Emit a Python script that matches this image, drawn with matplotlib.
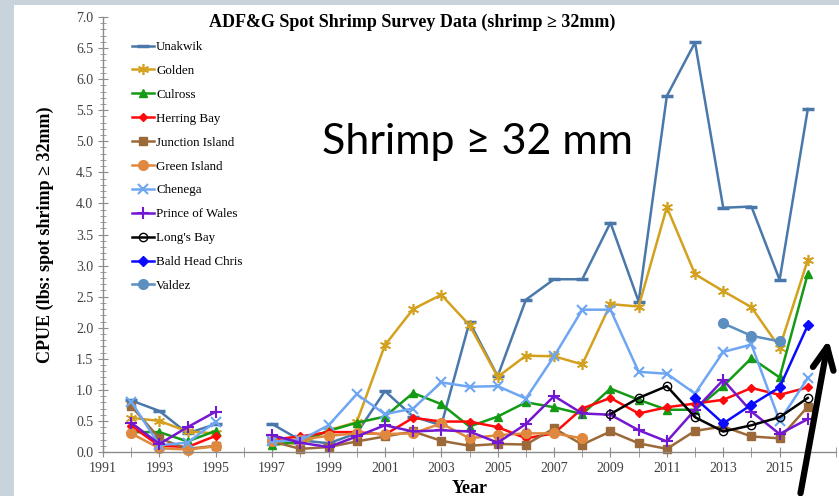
import numpy as np
import matplotlib
matplotlib.use('Agg')
from matplotlib import pyplot as plt
from matplotlib.patches import Rectangle
from matplotlib.ticker import MultipleLocator, FormatStrFormatter

nan = np.nan

# Survey years (1996 has no survey)
years = [1992, 1993, 1994, 1995, 1996, 1997, 1998, 1999, 2000, 2001, 2002, 2003, 2004,
         2005, 2006, 2007, 2008, 2009, 2010, 2011, 2012, 2013, 2014, 2015, 2016]

unakwik = [0.83, 0.66, 0.30, 0.45, nan, 0.45, 0.19, 0.14, 0.30, 0.98, 0.57, 0.43, 2.09,
           1.22, 2.45, 2.78, 2.78, 3.69, 2.42, 5.73, 6.59, 3.93, 3.95, 2.77, 5.52]
golden = [0.55, 0.50, 0.33, 0.30, nan, 0.18, 0.12, 0.35, 0.48, 1.72, 2.30, 2.53, 2.04,
          1.21, 1.55, 1.54, 1.41, 2.38, 2.34, 3.94, 2.86, 2.59, 2.33, 1.68, 3.09]
culross = [0.32, 0.32, 0.17, 0.34, nan, 0.11, 0.17, 0.34, 0.47, 0.57, 0.95, 0.77, 0.41,
           0.57, 0.80, 0.72, 0.61, 1.02, 0.84, 0.68, 0.68, 1.06, 1.51, 1.20, 2.87]
herring_bay = [0.42, 0.10, 0.08, 0.26, nan, 0.20, 0.25, 0.32, 0.32, 0.28, 0.55, 0.49, 0.49,
               0.40, 0.22, 0.30, 0.70, 0.87, 0.62, 0.72, 0.78, 0.84, 1.03, 0.92, 1.04]
junction_island = [0.74, 0.22, 0.05, 0.10, nan, 0.17, 0.05, 0.08, 0.17, 0.25, 0.33, 0.18, 0.10,
                   0.13, 0.12, 0.38, 0.12, 0.33, 0.14, 0.05, 0.34, 0.41, 0.25, 0.22, 0.73]
green_island = [0.30, 0.06, 0.04, 0.09, nan, 0.17, 0.20, 0.26, 0.30, 0.29, 0.30, 0.46, 0.22,
                0.27, 0.30, 0.30, 0.22, nan, nan, nan, nan, nan, nan, nan, nan]
chenega = [0.81, 0.11, 0.15, 0.49, nan, 0.17, 0.19, 0.43, 0.93, 0.61, 0.70, 1.12, 1.05,
           1.06, 0.86, 1.54, 2.29, 2.29, 1.29, 1.26, 0.94, 1.61, 1.73, 0.50, 1.19]
prince_of_wales = [0.47, 0.13, 0.40, 0.65, nan, 0.27, 0.15, 0.08, 0.25, 0.43, 0.33, 0.35, 0.33,
                   0.15, 0.45, 0.90, 0.62, 0.60, 0.35, 0.17, 0.68, 1.16, 0.65, 0.29, 0.53]
longs_bay = [nan] * 17 + [0.61, 0.87, 1.06, 0.56, 0.33, 0.43, 0.56, 0.87]
bald_head_chris = [nan] * 20 + [0.87, 0.46, 0.76, 1.04, 2.04]
valdez = [nan] * 21 + [2.07, 1.87, 1.78, nan]

# name, data, color, marker style
series = [
    ('Unakwik', unakwik, '#4a78aa', dict(marker='_', ms=9, mew=2.5)),
    ('Golden', golden, '#d4a11e', dict(marker=(6, 2, 0), ms=8, mew=1.2)),
    ('Culross', culross, '#159a15', dict(marker='^', ms=6)),
    ('Herring Bay', herring_bay, '#ff0a0a', dict(marker='D', ms=4.5)),
    ('Junction Island', junction_island, '#9c6a38', dict(marker='s', ms=6)),
    ('Green Island', green_island, '#e0893e', dict(marker='o', ms=7)),
    ('Chenega', chenega, '#6ea6f4', dict(marker='x', ms=7, mew=1.5)),
    ("Prince of Wales", prince_of_wales, '#7417d0', dict(marker='+', ms=8, mew=1.5)),
    ("Long's Bay", longs_bay, '#000000', dict(marker='o', ms=6, mfc='none', mew=1)),
    ('Bald Head Chris', bald_head_chris, '#0a0aff', dict(marker='D', ms=5)),
    ('Valdez', valdez, '#5b8fbf', dict(marker='o', ms=7)),
]

serif = ['Liberation Serif', 'DejaVu Serif']

W, H = 839, 496
fig = plt.figure(figsize=(W / 100, H / 100), dpi=100, facecolor='#c8d3db')

# White slide panel behind everything
fig.patches.append(Rectangle((14 / W, 0), 1 - 14 / W, 1 - 5 / H, transform=fig.transFigure,
                             facecolor='white', edgecolor='none', zorder=-10))

ax = fig.add_axes([103 / W, 44 / H, (836 - 103) / W, (452 - 17) / H])
ax.set_facecolor('none')

for name, data, color, mk in series:
    ax.plot(years, data, color=color, lw=1.8, label=name, clip_on=False, **mk)

ax.set_xlim(1991, 2017)
ax.set_ylim(0, 7)
ax.set_xticks(range(1991, 2016, 2))
ax.xaxis.set_minor_locator(MultipleLocator(1))
ax.yaxis.set_major_locator(MultipleLocator(0.5))
ax.yaxis.set_minor_locator(MultipleLocator(0.1))
ax.yaxis.set_major_formatter(FormatStrFormatter('%.1f'))

for s in ['top', 'right']:
    ax.spines[s].set_visible(False)
for s in ['left', 'bottom']:
    ax.spines[s].set_color('#8c8c8c')
    ax.spines[s].set_linewidth(1)

ax.tick_params(which='major', direction='inout', length=7, color='#8c8c8c',
               labelsize=10, labelcolor='#404040')
ax.tick_params(which='minor', direction='inout', length=4, color='#8c8c8c')
ax.tick_params(axis='x', which='minor', length=7)
for lbl in ax.get_xticklabels() + ax.get_yticklabels():
    lbl.set_family(serif)

ax.set_xlabel('Year', family=serif, fontsize=13, fontweight='bold', labelpad=4)
ax.set_ylabel('CPUE (lbs: spot shrimp \u2265 32mm)', family=serif, fontsize=13,
              fontweight='bold', labelpad=16)

fig.text(412 / W, 1 - 22 / H, 'ADF&G Spot Shrimp Survey Data (shrimp \u2265 32mm)',
         family=serif, fontsize=13, fontweight='bold', ha='center', va='center')

leg = ax.legend(loc='upper left', bbox_to_anchor=(132 / W, 1 - 41 / H),
                bbox_transform=fig.transFigure, frameon=False,
                prop=dict(family=serif, size=9.4), handlelength=1.7,
                handletextpad=0.15, labelspacing=0.9, borderpad=0, borderaxespad=0)

fig.text(477 / W, 1 - 142 / H, 'Shrimp \u2265 32 mm', family=['Lato', 'DejaVu Sans'],
         fontsize=31, ha='center', va='center')

# Big black arrow on the right
ax.annotate('', xy=(829 / W, 1 - 337 / H), xytext=(800 / W, 1 - 496 / H),
            xycoords='figure fraction', textcoords='figure fraction',
            arrowprops=dict(arrowstyle='->,head_length=1.6,head_width=0.75',
                            color='black', lw=4.5), annotation_clip=False)

fig.savefig('out.png', dpi=100, facecolor=fig.get_facecolor())
